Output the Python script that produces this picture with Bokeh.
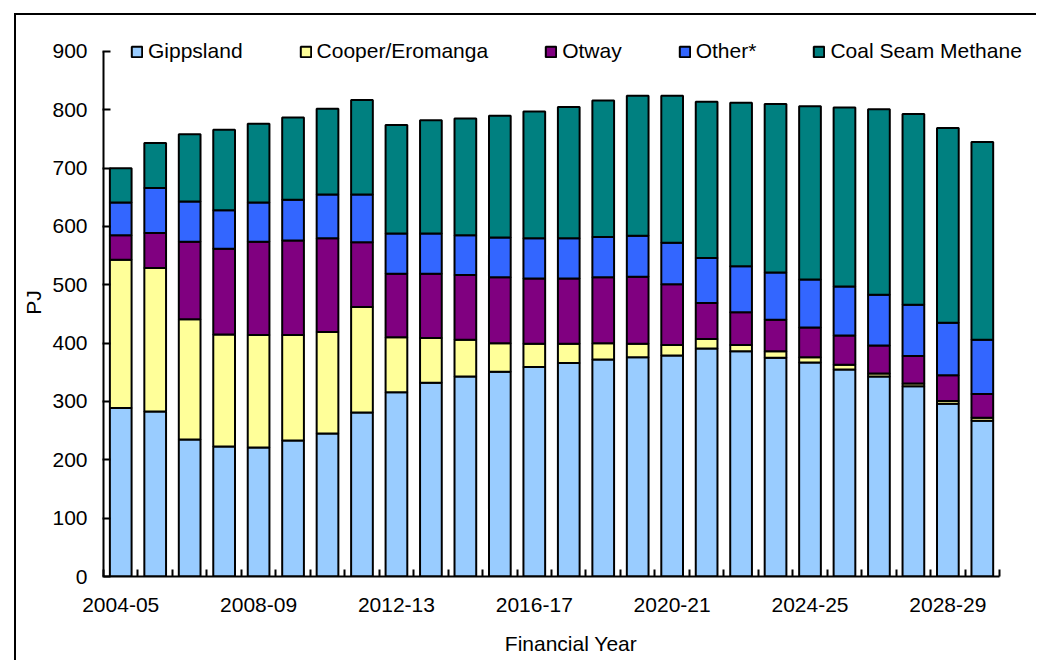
from bokeh.plotting import figure
from bokeh.models import ColumnDataSource, FixedTicker, Range1d, Legend
from bokeh.embed import file_html
from bokeh.resources import INLINE

years = ["2004-05", "2005-06", "2006-07", "2007-08", "2008-09", "2009-10", "2010-11",
         "2011-12", "2012-13", "2013-14", "2014-15", "2015-16", "2016-17", "2017-18",
         "2018-19", "2019-20", "2020-21", "2021-22", "2022-23", "2023-24", "2024-25",
         "2025-26", "2026-27", "2027-28", "2028-29", "2029-30"]
gippsland = [289, 283, 235, 223, 221, 233, 245, 281, 316, 332, 343, 351, 359, 366,
             372, 376, 379, 391, 386, 375, 367, 355, 343, 326, 296, 267]
cooper = [254, 246, 206, 192, 193, 181, 174, 181, 94, 77, 63, 49, 40, 33,
          28, 23, 18, 16, 11, 11, 9, 8, 5, 5, 5, 5]
otway = [42, 60, 133, 147, 160, 162, 161, 111, 109, 110, 111, 113, 112, 112,
         113, 115, 104, 62, 56, 54, 51, 50, 48, 47, 44, 41]
other = [56, 77, 69, 66, 67, 70, 75, 82, 69, 69, 68, 68, 69, 69,
         69, 70, 71, 77, 79, 81, 82, 84, 87, 88, 90, 93]
csm = [59, 77, 115, 138, 135, 141, 147, 162, 186, 194, 200, 209, 217, 225,
       234, 240, 252, 268, 280, 289, 297, 307, 318, 327, 334, 339]
series_labels = ["Gippsland", "Cooper/Eromanga", "Otway", "Other*", "Coal Seam Methane"]
y_ticks = [0, 100, 200, 300, 400, 500, 600, 700, 800, 900]
label_every = 4

colors = ["#99CCFF", "#FFFF99", "#800080", "#3366FF", "#008080"]
FONT = "Liberation Sans"
FS = "21px"

idx = list(range(len(years)))
source = ColumnDataSource(dict(x=idx, gippsland=gippsland, cooper=cooper, otway=otway,
                               other=other, csm=csm))
keys = ["gippsland", "cooper", "otway", "other", "csm"]

p = figure(width=1022, height=647, output_backend="svg", toolbar_location=None,
           x_range=Range1d(-0.5, 26.63), y_range=Range1d(0, 939.4),
           min_border_left=87, min_border_right=0, min_border_top=13, min_border_bottom=86)
p.styles = {"transform": "translate(16px, 15px)",
            "box-shadow": "-2px -2px 0 0 #000"}

renderers = p.vbar_stack(keys, x="x", width=0.63, source=source, fill_color=colors,
                         line_color="black", line_width=2)

p.xgrid.visible = False
p.ygrid.visible = False
p.outline_line_color = None
p.background_fill_color = "white"
p.border_fill_color = "white"

# x axis
xa = p.xaxis[0]
xa.bounds = (-0.5, len(years) - 0.5)
major = [i for i in idx if i % label_every == 0]
xa.ticker = FixedTicker(ticks=major, minor_ticks=[i - 0.5 for i in range(len(years) + 1)])
xa.major_label_overrides = {i: years[i] for i in major}
xa.major_tick_line_color = None
xa.minor_tick_in = 7
xa.minor_tick_out = 0
xa.minor_tick_line_width = 2
xa.minor_tick_line_color = "black"
xa.major_tick_out = 0
xa.major_tick_in = 0
xa.axis_line_width = 2
xa.axis_line_color = "black"
xa.major_label_standoff = 21
xa.major_label_text_font = FONT
xa.major_label_text_font_size = FS
xa.major_label_text_color = "black"
xa.axis_label = "Financial Year"
xa.axis_label_text_font = FONT
xa.axis_label_text_font_size = FS
xa.axis_label_text_font_style = "normal"
xa.axis_label_text_color = "black"
xa.axis_label_standoff = 17

ya = p.yaxis[0]
ya.ticker = FixedTicker(ticks=y_ticks)
ya.bounds = (0, 900)
ya.minor_tick_line_color = None
ya.major_tick_in = 7
ya.major_tick_out = 1
ya.major_tick_line_width = 2
ya.major_tick_line_color = "black"
ya.axis_line_width = 2
ya.axis_line_color = "black"
ya.major_label_standoff = 15
ya.major_label_text_font = FONT
ya.major_label_text_font_size = FS
ya.major_label_text_color = "black"
ya.axis_label = "PJ"
ya.axis_label_text_font = FONT
ya.axis_label_text_font_size = FS
ya.axis_label_text_font_style = "normal"
ya.axis_label_text_color = "black"
ya.axis_label_standoff = 4

legend = Legend(items=[(lab, [r]) for lab, r in zip(series_labels, renderers)],
                orientation="horizontal", location=(27, 513),
                glyph_width=13, glyph_height=13, label_height=13, label_standoff=5,
                spacing=56, padding=0, margin=0, border_line_color=None,
                background_fill_alpha=0, label_text_font=FONT, label_text_font_size=FS,
                label_text_color="black")
p.add_layout(legend, "center")

open("out.html", "w").write(file_html(p, INLINE))
